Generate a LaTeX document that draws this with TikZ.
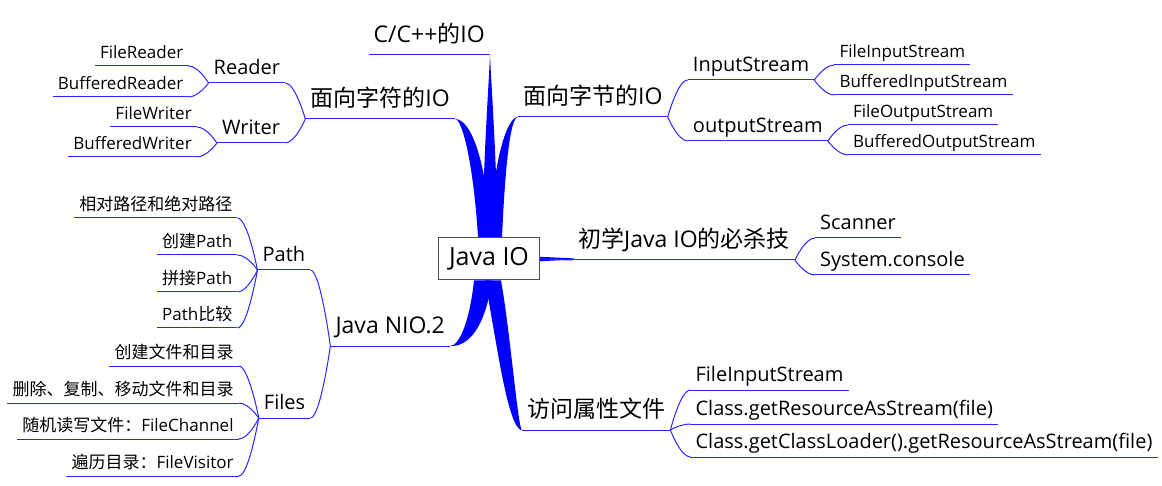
\documentclass[tikz,border=0pt]{standalone}
\usepackage{fontspec}
\setmainfont{Open Sans}
\newfontfamily\zhfont{Noto Sans CJK SC}
\newcommand\zh[1]{{\zhfont #1}}
\usetikzlibrary{calc,backgrounds}
\definecolor{lk}{RGB}{40,40,255}
\definecolor{brc}{RGB}{0,0,255}
\definecolor{boxc}{RGB}{80,80,80}
\begin{document}
\begin{tikzpicture}[x=1pt,y=-1pt,
  lone/.style={font=\fontsize{23}{27}\selectfont, inner xsep=5pt, inner ysep=0pt, text depth=12pt},
  ltwo/.style={font=\fontsize{20}{24}\selectfont, inner xsep=5pt, inner ysep=0pt, text depth=8pt},
  lthree/.style={font=\fontsize{17}{20}\selectfont, inner xsep=5pt, inner ysep=0pt, text depth=7pt},
  rootbox/.style={draw=boxc, line width=1pt, fill=white, minimum width=101pt, minimum height=42pt, inner sep=0pt, font=\fontsize{25}{30}\selectfont},
  ul/.style={draw=lk, line width=1pt},
  br/.style={fill=brc},
  fork/.style={to path={let \p1=(\tikztostart), \p2=(\tikztotarget) in .. controls (\p1) and ({0.5*\x1+0.5*\x2},\y2) .. (\p2)}}
]
\useasboundingbox (0,0) rectangle (1162,486);

% root
\node[rootbox] (root) at (489,259) {Java IO};

% level 1
\node[lone, anchor=south east] (cio) at (490,55) {C/C++\zh{的}IO};
\node[lone, anchor=south east] (zf) at (455,119) {\zh{面向字符的}IO};
\node[lone, anchor=south west] (zj) at (518,117) {\zh{面向字节的}IO};
\node[lone, anchor=south west] (cx) at (573,260) {\zh{初学}Java IO\zh{的必杀技}};
\node[lone, anchor=south east] (nio) at (450,346) {Java NIO.2};
\node[lone, anchor=south west] (fw) at (522,430) {\zh{访问属性文件}};

% level 2
\node[ltwo, anchor=south east] (rd) at ($(zf.south west)+(-20,-36)$) {Reader};
\node[ltwo, anchor=south east] (wr) at ($(zf.south west)+(-20,24)$) {Writer};
\node[ltwo, anchor=south west] (is) at ($(zj.south east)+(20,-37)$) {InputStream};
\node[ltwo, anchor=south west] (os) at ($(zj.south east)+(20,24)$) {outputStream};
\node[ltwo, anchor=south west] (sc) at ($(cx.south east)+(20,-22)$) {Scanner};
\node[ltwo, anchor=south west] (sys) at ($(cx.south east)+(20,15)$) {System.console};
\node[ltwo, anchor=south east] (path) at ($(nio.south west)+(-20,-76)$) {Path};
\node[ltwo, anchor=south east] (files) at ($(nio.south west)+(-20,72)$) {Files};
\node[ltwo, anchor=south west] (a1) at ($(fw.south east)+(20,-40)$) {FileInputStream};
\node[ltwo, anchor=south west] (a2) at ($(fw.south east)+(20,-6)$) {Class.getResourceAsStream(file)};
\node[ltwo, anchor=south west] (a3) at ($(fw.south east)+(20,27)$) {Class.getClassLoader().getResourceAsStream(file)};

% level 3
\node[lthree, anchor=south east] (fr) at ($(rd.south west)+(-20,-17)$) {FileReader};
\node[lthree, anchor=south east] (bread) at ($(rd.south west)+(-20,14)$) {BufferedReader};
\node[lthree, anchor=south east] (fwr) at ($(wr.south west)+(-20,-16)$) {FileWriter};
\node[lthree, anchor=south east] (bwrite) at ($(wr.south west)+(-20,14)$) {BufferedWriter};
\node[lthree, anchor=south west] (fis) at ($(is.south east)+(20,-15)$) {FileInputStream};
\node[lthree, anchor=south west] (bis) at ($(is.south east)+(20,15)$) {BufferedInputStream};
\node[lthree, anchor=south west] (fos) at ($(os.south east)+(20,-16)$) {FileOutputStream};
\node[lthree, anchor=south west] (bos) at ($(os.south east)+(20,14)$) {BufferedOutputStream};
\node[lthree, anchor=south east] (p1) at ($(path.south west)+(-20,-52)$) {\zh{相对路径和绝对路径}};
\node[lthree, anchor=south east] (p2) at ($(path.south west)+(-20,-15)$) {\zh{创建}Path};
\node[lthree, anchor=south east] (p3) at ($(path.south west)+(-20,22)$) {\zh{拼接}Path};
\node[lthree, anchor=south east] (p4) at ($(path.south west)+(-20,58)$) {Path\zh{比较}};
\node[lthree, anchor=south east] (f1) at ($(files.south west)+(-20,-52)$) {\zh{创建文件和目录}};
\node[lthree, anchor=south east] (f2) at ($(files.south west)+(-20,-15)$) {\zh{删除、复制、移动文件和目录}};
\node[lthree, anchor=south east] (f3) at ($(files.south west)+(-20,21)$) {\zh{随机读写文件：}FileChannel};
\node[lthree, anchor=south east] (f4) at ($(files.south west)+(-20,58)$) {\zh{遍历目录：}FileVisitor};

% underlines
\foreach \n in {cio,zf,zj,cx,nio,fw,rd,wr,is,os,sc,sys,path,files,a1,a2,a3,fr,bread,fwr,bwrite,fis,bis,fos,bos,p1,p2,p3,p4,f1,f2,f3,f4}
  \draw[ul] (\n.south west) -- (\n.south east);

% thin forks
\draw[ul] (zf.south west) to[fork] (rd.south east);
\draw[ul] (zf.south west) to[fork] (wr.south east);
\draw[ul] (rd.south west) to[fork] (fr.south east);
\draw[ul] (rd.south west) to[fork] (bread.south east);
\draw[ul] (wr.south west) to[fork] (fwr.south east);
\draw[ul] (wr.south west) to[fork] (bwrite.south east);
\draw[ul] (zj.south east) to[fork] (is.south west);
\draw[ul] (zj.south east) to[fork] (os.south west);
\draw[ul] (is.south east) to[fork] (fis.south west);
\draw[ul] (is.south east) to[fork] (bis.south west);
\draw[ul] (os.south east) to[fork] (fos.south west);
\draw[ul] (os.south east) to[fork] (bos.south west);
\draw[ul] (cx.south east) to[fork] (sc.south west);
\draw[ul] (cx.south east) to[fork] (sys.south west);
\draw[ul] (nio.south west) to[fork] (path.south east);
\draw[ul] (nio.south west) to[fork] (files.south east);
\foreach \c in {p1,p2,p3,p4}
  \draw[ul] (path.south west) to[fork] (\c.south east);
\foreach \c in {f1,f2,f3,f4}
  \draw[ul] (files.south west) to[fork] (\c.south east);
\foreach \c in {a1,a2,a3}
  \draw[ul] (fw.south east) to[fork] (\c.south west);
\draw[ul] (root.east) -- (cx.south west);

% thick tapered branches from the root
\begin{pgfonlayer}{background}
\fill[white] (0,0) rectangle (1162,486);
\fill[br] ($(root.north)+(-7,0)$) .. controls ($(root.north)+(-5,-88)$) and ($(cio.south east)+(-1,25)$) .. (cio.south east)
  .. controls ($(cio.south east)+(1,25)$) and ($(root.north)+(7,-88)$) .. ($(root.north)+(9,0)$) -- cycle;
\fill[br] (zf.south east) .. controls ($(zf.south east)+(8,0)$) and ($(root.north)+(-15,-68)$) .. ($(root.north)+(-11,0)$)
  -- ($(root.north)+(2,0)$) .. controls ($(root.north)+(-2,-73)$) and ($(zf.south east)+(17,0)$) .. (zf.south east) -- cycle;
\fill[br] (zj.south west) .. controls ($(zj.south west)+(-8,0)$) and ($(root.north)+(16,-68)$) .. ($(root.north)+(13,0)$)
  -- ($(root.north)+(0,0)$) .. controls ($(root.north)+(4,-73)$) and ($(zj.south west)+(-12,0)$) .. (zj.south west) -- cycle;
\fill[br] ($(root.south)+(-15,0)$) .. controls ($(root.south)+(-19,38)$) and ($(nio.south east)+(10,0)$) .. (nio.south east)
  .. controls ($(nio.south east)+(18,1)$) and ($(root.south)+(-4,48)$) .. ($(root.south)+(3,0)$) -- cycle;
\fill[br] ($(root.south)+(-4,0)$) .. controls ($(root.south)+(9,70)$) and ($(fw.south west)+(-14,-2)$) .. ($(fw.south west)+(0,0.5)$)
  .. controls ($(fw.south west)+(-4,-2)$) and ($(root.south)+(21,50)$) .. ($(root.south)+(12,0)$) -- cycle;
\fill[br] ($(root.east)+(0,-2.2)$) -- ($(root.east)+(34,-0.6)$) -- ($(root.east)+(34,0.6)$) -- ($(root.east)+(0,2.2)$) -- cycle;
\end{pgfonlayer}
\end{tikzpicture}
\end{document}
